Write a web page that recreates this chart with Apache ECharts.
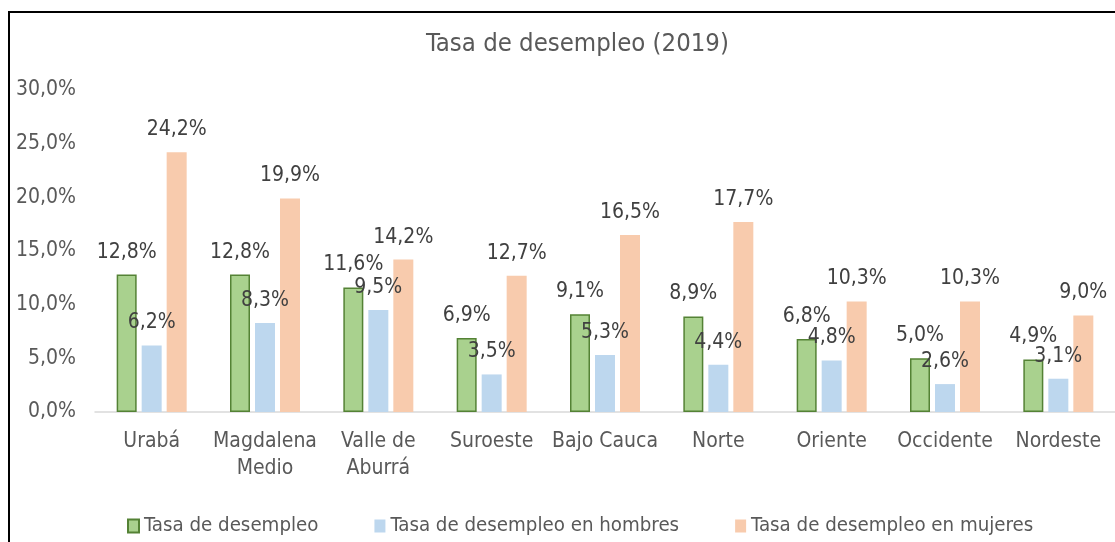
<!DOCTYPE html>
<html>
<head>
<meta charset="utf-8">
<script src="https://cdn.jsdelivr.net/npm/echarts@6/dist/echarts.min.js"></script>
<style>
  html, body { margin: 0; padding: 0; background: #fff; }
  #chart { width: 1115px; height: 542px; }
</style>
</head>
<body>
<div id="chart"></div>
<script>
// datos
const regiones = ['Urabá', 'Magdalena\nMedio', 'Valle de\nAburrá', 'Suroeste', 'Bajo Cauca', 'Norte', 'Oriente', 'Occidente', 'Nordeste'];
const tasaTotal = [12.8, 12.8, 11.6, 6.9, 9.1, 8.9, 6.8, 5.0, 4.9];
const tasaHombres = [6.2, 8.3, 9.5, 3.5, 5.3, 4.4, 4.8, 2.6, 3.1];
const tasaMujeres = [24.2, 19.9, 14.2, 12.7, 16.5, 17.7, 10.3, 10.3, 9.0];
const nombres = ['Tasa de desempleo', 'Tasa de desempleo en hombres', 'Tasa de desempleo en mujeres'];

const fuente = '"DejaVu Sans Condensed", sans-serif';
const fmt = v => v.toFixed(1).replace('.', ',') + '%';

const myChart = echarts.init(document.getElementById('chart'));

const etiqueta = {
  show: true,
  position: 'top',
  distance: 12,
  color: '#404040',
  fontFamily: fuente,
  fontSize: 21,
  formatter: p => fmt(p.value)
};

const options = {
  animation: false,
  graphic: [{
    type: 'rect',
    shape: { x: 9, y: 12, width: 1300, height: 700 },
    style: { fill: 'none', stroke: '#000', lineWidth: 2 },
    silent: true
  }],
  title: {
    text: 'Tasa de desempleo (2019)',
    left: 421,
    top: 26,
    textStyle: { fontFamily: fuente, fontSize: 25.5, fontWeight: 'normal', color: '#595959' }
  },
  legend: {
    data: nombres,
    icon: 'rect',
    left: 122,
    top: 511,
    itemWidth: 11,
    itemHeight: 13,
    itemGap: 56,
    textStyle: { fontFamily: fuente, fontSize: 20.3, color: '#595959' }
  },
  grid: { left: 95, right: 0, top: 90, bottom: 130 },
  xAxis: {
    type: 'category',
    data: regiones,
    axisLine: { lineStyle: { color: '#d9d9d9', width: 1.5 } },
    axisTick: { show: false },
    axisLabel: {
      fontFamily: fuente, fontSize: 21, color: '#595959',
      margin: 16, lineHeight: 27, interval: 0
    }
  },
  yAxis: {
    type: 'value',
    min: 0,
    max: 30,
    interval: 5,
    splitLine: { show: false },
    axisLine: { show: false },
    axisLabel: {
      fontFamily: fuente, fontSize: 21, color: '#595959', margin: 19,
      formatter: v => fmt(v)
    }
  },
  series: [
    {
      name: nombres[0], type: 'bar', data: tasaTotal,
      barWidth: 20, barGap: '25%',
      itemStyle: { color: '#A9D18E', borderColor: '#548235', borderWidth: 1.5 },
      label: etiqueta
    },
    {
      name: nombres[1], type: 'bar', data: tasaHombres,
      barWidth: 20, barGap: '25%',
      itemStyle: { color: '#BDD7EE' },
      label: etiqueta
    },
    {
      name: nombres[2], type: 'bar', data: tasaMujeres,
      barWidth: 20, barGap: '25%',
      itemStyle: { color: '#F8CBAD' },
      label: etiqueta
    }
  ]
};

myChart.setOption(options);
</script>
</body>
</html>
